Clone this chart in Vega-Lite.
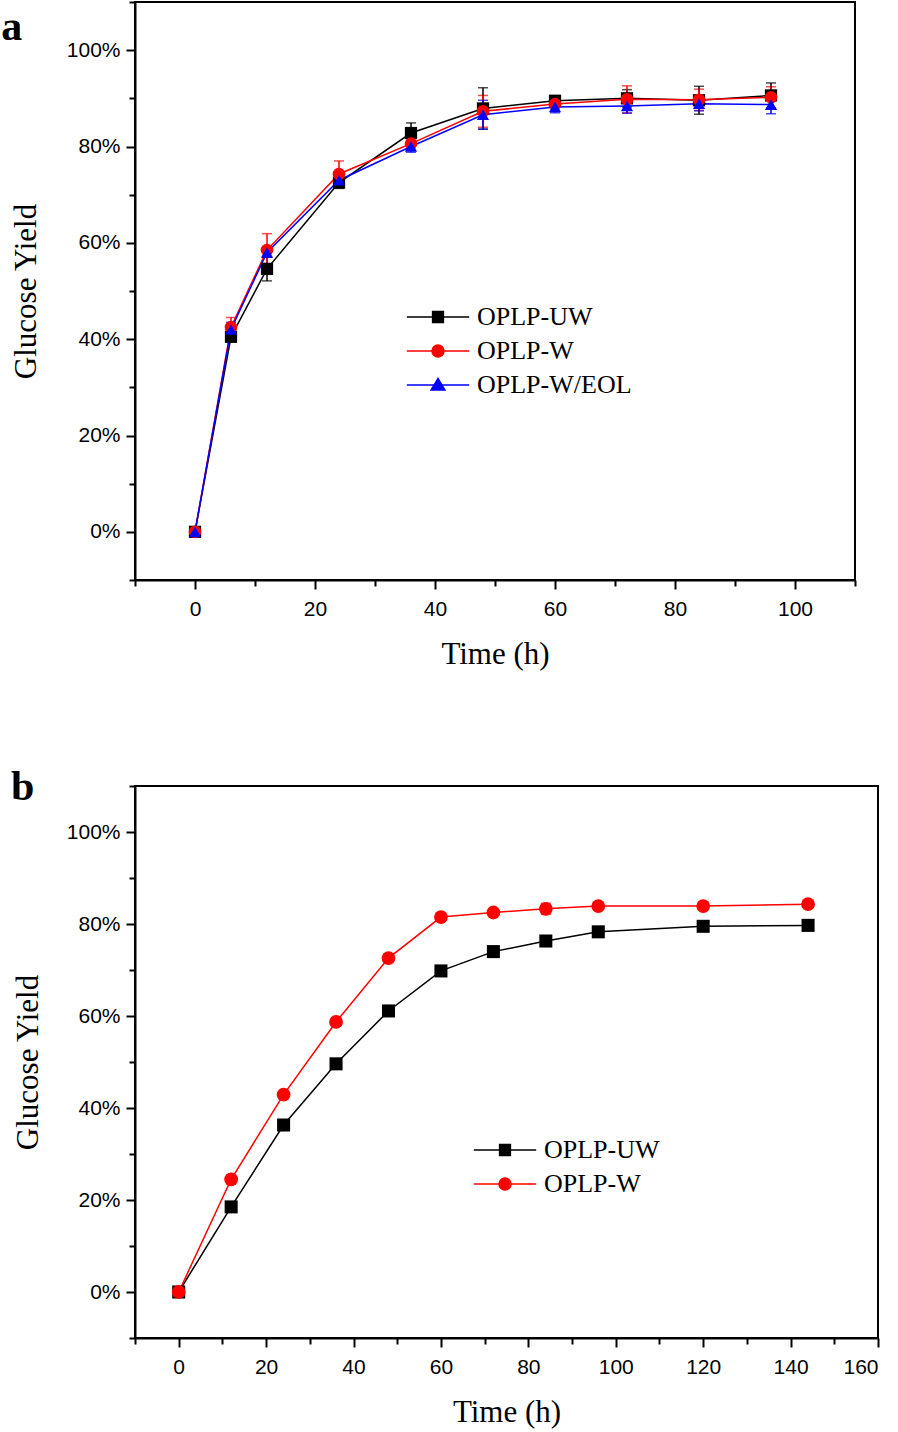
{
  "$schema": "https://vega.github.io/schema/vega-lite/v6.json",
  "background": "white",
  "padding": {"left": 0, "top": 0, "right": 5, "bottom": 5},
  "columns": 1,
  "spacing": 95,
  "config": {
    "view": {"stroke": "black", "strokeWidth": 2},
    "axis": {
      "domainColor": "black", "domainWidth": 2, "tickColor": "black", "tickWidth": 2,
      "grid": false, "labelFont": "Liberation Sans", "labelFontSize": 21, "labelColor": "black",
      "titleFont": "Liberation Serif", "titleFontSize": 31, "titleFontWeight": "normal", "titleColor": "black"
    },
    "legend": {"labelFont": "Liberation Serif", "labelFontSize": 26, "labelColor": "black"}
  },
  "datasets": {
    "a": [
      {"series": "OPLP-UW", "t": 0, "y": 0, "err": 0},
      {"series": "OPLP-UW", "t": 6, "y": 0.405, "err": 0.01},
      {"series": "OPLP-UW", "t": 12, "y": 0.546, "err": 0.025},
      {"series": "OPLP-UW", "t": 24, "y": 0.725, "err": 0.012},
      {"series": "OPLP-UW", "t": 36, "y": 0.828, "err": 0.021},
      {"series": "OPLP-UW", "t": 48, "y": 0.879, "err": 0.043},
      {"series": "OPLP-UW", "t": 60, "y": 0.895, "err": 0.008},
      {"series": "OPLP-UW", "t": 72, "y": 0.9, "err": 0.018},
      {"series": "OPLP-UW", "t": 84, "y": 0.896, "err": 0.029},
      {"series": "OPLP-UW", "t": 96, "y": 0.906, "err": 0.026},
      {"series": "OPLP-W", "t": 0, "y": 0, "err": 0},
      {"series": "OPLP-W", "t": 6, "y": 0.425, "err": 0.02},
      {"series": "OPLP-W", "t": 12, "y": 0.585, "err": 0.034},
      {"series": "OPLP-W", "t": 24, "y": 0.743, "err": 0.027},
      {"series": "OPLP-W", "t": 36, "y": 0.806, "err": 0.012},
      {"series": "OPLP-W", "t": 48, "y": 0.873, "err": 0.033},
      {"series": "OPLP-W", "t": 60, "y": 0.888, "err": 0.01},
      {"series": "OPLP-W", "t": 72, "y": 0.898, "err": 0.028},
      {"series": "OPLP-W", "t": 84, "y": 0.897, "err": 0.022},
      {"series": "OPLP-W", "t": 96, "y": 0.902, "err": 0.022},
      {"series": "OPLP-W/EOL", "t": 0, "y": 0, "err": 0},
      {"series": "OPLP-W/EOL", "t": 6, "y": 0.42, "err": 0.015},
      {"series": "OPLP-W/EOL", "t": 12, "y": 0.58, "err": 0.01},
      {"series": "OPLP-W/EOL", "t": 24, "y": 0.73, "err": 0.012},
      {"series": "OPLP-W/EOL", "t": 36, "y": 0.8, "err": 0.012},
      {"series": "OPLP-W/EOL", "t": 48, "y": 0.866, "err": 0.03},
      {"series": "OPLP-W/EOL", "t": 60, "y": 0.882, "err": 0.012},
      {"series": "OPLP-W/EOL", "t": 72, "y": 0.884, "err": 0.015},
      {"series": "OPLP-W/EOL", "t": 84, "y": 0.889, "err": 0.015},
      {"series": "OPLP-W/EOL", "t": 96, "y": 0.887, "err": 0.019}
    ],
    "b": [
      {"series": "OPLP-UW", "t": 0, "y": 0, "err": 0},
      {"series": "OPLP-UW", "t": 12, "y": 0.185, "err": 0.005},
      {"series": "OPLP-UW", "t": 24, "y": 0.363, "err": 0.005},
      {"series": "OPLP-UW", "t": 36, "y": 0.496, "err": 0.005},
      {"series": "OPLP-UW", "t": 48, "y": 0.611, "err": 0.005},
      {"series": "OPLP-UW", "t": 60, "y": 0.698, "err": 0.005},
      {"series": "OPLP-UW", "t": 72, "y": 0.74, "err": 0.005},
      {"series": "OPLP-UW", "t": 84, "y": 0.763, "err": 0.005},
      {"series": "OPLP-UW", "t": 96, "y": 0.783, "err": 0.005},
      {"series": "OPLP-UW", "t": 120, "y": 0.795, "err": 0.005},
      {"series": "OPLP-UW", "t": 144, "y": 0.797, "err": 0.005},
      {"series": "OPLP-W", "t": 0, "y": 0, "err": 0},
      {"series": "OPLP-W", "t": 12, "y": 0.245, "err": 0.01},
      {"series": "OPLP-W", "t": 24, "y": 0.429, "err": 0.005},
      {"series": "OPLP-W", "t": 36, "y": 0.587, "err": 0.005},
      {"series": "OPLP-W", "t": 48, "y": 0.726, "err": 0.005},
      {"series": "OPLP-W", "t": 60, "y": 0.815, "err": 0.005},
      {"series": "OPLP-W", "t": 72, "y": 0.825, "err": 0.005},
      {"series": "OPLP-W", "t": 84, "y": 0.833, "err": 0.012},
      {"series": "OPLP-W", "t": 96, "y": 0.839, "err": 0.005},
      {"series": "OPLP-W", "t": 120, "y": 0.839, "err": 0.005},
      {"series": "OPLP-W", "t": 144, "y": 0.843, "err": 0.005}
    ]
  },
  "concat": [
    {
      "width": 720,
      "height": 578,
      "title": {"text": "a", "orient": "left", "anchor": "end", "angle": 0, "frame": "group", "align": "left", "baseline": "top", "font": "Liberation Serif", "fontWeight": "bold", "fontSize": 42, "color": "black", "offset": -12, "dy": 5},
      "data": {"name": "a"},
      "encoding": {
        "x": {"field": "t", "type": "quantitative", "title": "Time (h)",
          "scale": {"domain": [-10, 110], "nice": false, "zero": false},
          "axis": {"values": [-10, 0, 10, 20, 30, 40, 50, 60, 70, 80, 90, 100, 110],
            "labelExpr": "datum.value % 20 === 0 ? format(datum.value, 'd') : ''",
            "tickSize": {"condition": {"test": "datum.value % 20 === 0", "value": 9}, "value": 6},
            "labelPadding": 9, "titlePadding": 20}},
        "y": {"field": "y", "type": "quantitative", "title": "Glucose Yield",
          "scale": {"domain": [-0.1, 1.1], "nice": false, "zero": false},
          "axis": {"values": [-0.1, 0, 0.1, 0.2, 0.3, 0.4, 0.5, 0.6, 0.7, 0.8, 0.9, 1.0, 1.1],
            "labelExpr": "(round(datum.value * 10) % 2 === 0 && datum.value >= 0 && datum.value <= 1.0001) ? format(datum.value, '.0%') : ''",
            "tickSize": {"condition": {"test": "round(datum.value * 10) % 2 === 0", "value": 9}, "value": 6},
            "labelPadding": 6, "titlePadding": 24}},
        "color": {"field": "series", "type": "nominal",
          "scale": {"domain": ["OPLP-UW", "OPLP-W", "OPLP-W/EOL"], "range": ["black", "red", "blue"]},
          "legend": {"title": null, "orient": "none", "legendX": 272, "legendY": 302, "symbolSize": 144, "labelOffset": 44, "rowPadding": 8,
            "encode": {"symbols": {"update": {
              "x": {"value": 31},
              "size": {"value": 144},
              "strokeWidth": {"value": 1.5},
              "stroke": {"signal": "datum.value === 'OPLP-UW' ? 'black' : datum.value === 'OPLP-W' ? 'red' : 'blue'"},
              "fill": {"signal": "datum.value === 'OPLP-UW' ? 'black' : datum.value === 'OPLP-W' ? 'red' : 'blue'"},
              "shape": {"signal": "datum.value === 'OPLP-UW' ? 'M-5.2,0H5.2M-0.9,-0.9H0.9V0.9H-0.9Z' : datum.value === 'OPLP-W' ? 'M-5.2,0H5.2M1,0A1,1,0,1,1,-1,0A1,1,0,1,1,1,0Z' : 'M-5.2,0H5.2M0,-1.1L1.15,0.85H-1.15Z'"}
            }}}}}
      },
      "layer": [
        {"mark": {"type": "errorbar", "ticks": {"size": 10, "thickness": 1.5}, "rule": {"strokeWidth": 1.5}},
          "encoding": {"yError": {"field": "err"}}},
        {"mark": {"type": "line", "strokeWidth": 1.5}},
        {"transform": [{"filter": "datum.series === 'OPLP-UW'"}],
          "mark": {"type": "point", "shape": "square", "filled": true, "opacity": 1, "size": 150, "strokeWidth": 0}},
        {"transform": [{"filter": "datum.series === 'OPLP-W'"}],
          "mark": {"type": "point", "shape": "circle", "filled": true, "opacity": 1, "size": 160, "strokeWidth": 0}},
        {"transform": [{"filter": "datum.series === 'OPLP-W/EOL'"}],
          "mark": {"type": "point", "shape": "triangle-up", "filled": true, "opacity": 1, "size": 150, "strokeWidth": 0}}
      ]
    },
    {
      "width": 743,
      "height": 552,
      "title": {"text": "b", "orient": "left", "anchor": "end", "angle": 0, "frame": "group", "align": "left", "baseline": "top", "font": "Liberation Serif", "fontWeight": "bold", "fontSize": 42, "color": "black", "offset": -12, "dy": -19, "dx": 10},
      "data": {"name": "b"},
      "encoding": {
        "x": {"field": "t", "type": "quantitative", "title": "Time (h)",
          "scale": {"domain": [-10, 160], "nice": false, "zero": false},
          "axis": {"values": [-10, 0, 10, 20, 30, 40, 50, 60, 70, 80, 90, 100, 110, 120, 130, 140, 150, 160],
            "labelExpr": "datum.value % 20 === 0 ? format(datum.value, 'd') : ''",
            "tickSize": {"condition": {"test": "datum.value % 20 === 0", "value": 9}, "value": 6},
            "labelPadding": 9, "titlePadding": 20}},
        "y": {"field": "y", "type": "quantitative", "title": "Glucose Yield",
          "scale": {"domain": [-0.1, 1.1], "nice": false, "zero": false},
          "axis": {"values": [-0.1, 0, 0.1, 0.2, 0.3, 0.4, 0.5, 0.6, 0.7, 0.8, 0.9, 1.0, 1.1],
            "labelExpr": "(round(datum.value * 10) % 2 === 0 && datum.value >= 0 && datum.value <= 1.0001) ? format(datum.value, '.0%') : ''",
            "tickSize": {"condition": {"test": "round(datum.value * 10) % 2 === 0", "value": 9}, "value": 6},
            "labelPadding": 6, "titlePadding": 22}},
        "color": {"field": "series", "type": "nominal",
          "scale": {"domain": ["OPLP-UW", "OPLP-W"], "range": ["black", "red"]},
          "legend": {"title": null, "orient": "none", "legendX": 339, "legendY": 351, "symbolSize": 144, "labelOffset": 44, "rowPadding": 8,
            "encode": {"symbols": {"update": {
              "x": {"value": 31},
              "size": {"value": 144},
              "strokeWidth": {"value": 1.5},
              "stroke": {"signal": "datum.value === 'OPLP-UW' ? 'black' : 'red'"},
              "fill": {"signal": "datum.value === 'OPLP-UW' ? 'black' : 'red'"},
              "shape": {"signal": "datum.value === 'OPLP-UW' ? 'M-5.2,0H5.2M-0.9,-0.9H0.9V0.9H-0.9Z' : 'M-5.2,0H5.2M1,0A1,1,0,1,1,-1,0A1,1,0,1,1,1,0Z'"}
            }}}}}
      },
      "layer": [
        {"mark": {"type": "errorbar", "ticks": {"size": 10, "thickness": 1.5}, "rule": {"strokeWidth": 1.5}},
          "encoding": {"yError": {"field": "err"}}},
        {"mark": {"type": "line", "strokeWidth": 1.5}},
        {"transform": [{"filter": "datum.series === 'OPLP-UW'"}],
          "mark": {"type": "point", "shape": "square", "filled": true, "opacity": 1, "size": 170, "strokeWidth": 0}},
        {"transform": [{"filter": "datum.series === 'OPLP-W'"}],
          "mark": {"type": "point", "shape": "circle", "filled": true, "opacity": 1, "size": 190, "strokeWidth": 0}}
      ]
    }
  ],
  "resolve": {"scale": {"color": "independent", "x": "independent", "y": "independent"}}
}
